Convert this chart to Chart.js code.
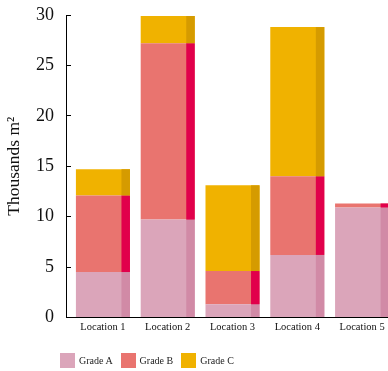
<!DOCTYPE html>
<html>
<head>
<meta charset="utf-8">
<script src="https://cdn.jsdelivr.net/npm/chart.js@4/dist/chart.umd.min.js"></script>
<style>
  html, body { margin: 0; padding: 0; background: #fff; }
  #wrap { position: relative; width: 388px; height: 371px; overflow: hidden; }
  #chart { display: block; }
  #legend {
    position: absolute; left: 60px; top: 353px;
    display: flex; align-items: center;
    font-family: "Liberation Serif", serif; font-size: 10px; color: #222;
  }
  #legend .item { display: flex; align-items: center; margin-right: 8px; }
  #legend .box { width: 15px; height: 15px; margin-right: 4px; }
</style>
</head>
<body>
<div id="wrap">
  <canvas id="chart" width="388" height="371"></canvas>
  <div id="legend"></div>
</div>
<script>
// Floor area per location, split by grade (thousands of m²)
const categories = ['Location 1', 'Location 2', 'Location 3', 'Location 4', 'Location 5'];
const positions = [1, 2, 3, 4, 5];
const gradeA = [4.5, 9.7, 1.3, 6.2, 10.9];
const gradeB = [7.6, 17.5, 3.3, 7.8, 0.4];
const gradeC = [2.6, 2.7, 8.5, 14.8, 0];
const seriesNames = ['Grade A', 'Grade B', 'Grade C'];
const yTicks = [0, 5, 10, 15, 20, 25, 30];

const frontColors = ['#DBA5BA', '#E9746F', '#F0B200'];
const sideColors = ['#D18AA6', '#E1004B', '#D59B00'];
const SIDE_FRACTION = 0.157;
const FONT = '"Liberation Serif", serif';

const series = [gradeA, gradeB, gradeC];
const datasets = series.map((vals, i) => ({
  label: seriesNames[i],
  data: vals.map((v, j) => ({ x: positions[j], y: v })),
  backgroundColor: frontColors[i],
  borderWidth: 0,
  categoryPercentage: 1,
  barPercentage: 0.834
}));

// Paints the darker right-hand face of every bar segment
const sideFaces = {
  id: 'sideFaces',
  afterDatasetsDraw(chart) {
    const { ctx, chartArea } = chart;
    ctx.save();
    ctx.beginPath();
    ctx.rect(chartArea.left, chartArea.top, chartArea.right - chartArea.left, chartArea.bottom - chartArea.top);
    ctx.clip();
    chart.data.datasets.forEach((ds, di) => {
      const meta = chart.getDatasetMeta(di);
      if (meta.hidden) return;
      ctx.fillStyle = sideColors[di];
      meta.data.forEach(el => {
        const p = el.getProps(['x', 'y', 'base', 'width'], true);
        const top = Math.min(p.y, p.base);
        const h = Math.abs(p.base - p.y);
        if (h <= 0) return;
        const w = p.width * SIDE_FRACTION;
        ctx.fillRect(p.x + p.width / 2 - w, top, w, h);
      });
    });
    ctx.restore();
  }
};

new Chart(document.getElementById('chart'), {
  type: 'bar',
  data: { datasets },
  plugins: [sideFaces],
  options: {
    responsive: false,
    animation: false,
    layout: { padding: { top: 15, right: 0, bottom: 33, left: 0 } },
    plugins: { legend: { display: false }, tooltip: { enabled: false } },
    scales: {
      x: {
        type: 'linear',
        stacked: true,
        offset: false,
        min: 0.43,
        max: 5.4,
        grid: { display: false, drawTicks: false, offset: false },
        border: { display: true, color: '#000', width: 1 },
        ticks: {
          stepSize: 1,
          includeBounds: false,
          padding: 4,
          color: '#111',
          font: { family: FONT, size: 10.5 },
          callback: (v) => categories[positions.indexOf(v)] || ''
        },
        afterFit: (s) => { s.paddingLeft = 0; s.paddingRight = 0; }
      },
      y: {
        stacked: true,
        min: 0,
        max: 30,
        afterBuildTicks: (s) => { s.ticks = yTicks.map(v => ({ value: v })); },
        afterFit: (s) => { s.width = 66; s.paddingTop = 0; s.paddingBottom = 0; },
        grid: { display: true, drawOnChartArea: false, drawTicks: true, tickLength: -5, color: '#000' },
        border: { display: true, color: '#000', width: 1 },
        ticks: {
          padding: 17,
          color: '#111',
          font: { family: FONT, size: 18 }
        },
        title: {
          display: true,
          text: 'Thousands m²',
          color: '#111',
          font: { family: FONT, size: 17.5 },
          padding: { top: 4, bottom: 0 }
        }
      }
    }
  }
});

// Legend built from the series names and colours
const legend = document.getElementById('legend');
seriesNames.forEach((name, i) => {
  const item = document.createElement('div');
  item.className = 'item';
  const box = document.createElement('div');
  box.className = 'box';
  box.style.background = frontColors[i];
  const txt = document.createElement('span');
  txt.textContent = name;
  item.appendChild(box);
  item.appendChild(txt);
  legend.appendChild(item);
});
</script>
</body>
</html>
